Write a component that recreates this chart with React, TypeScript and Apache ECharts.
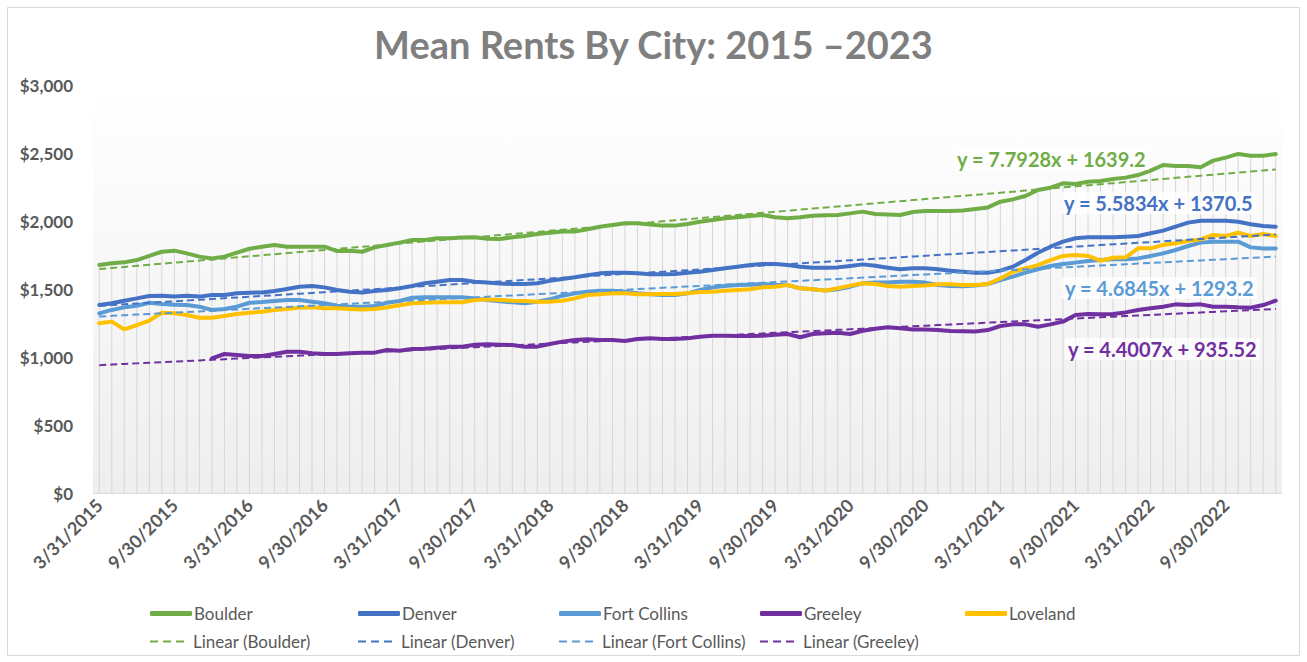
import React, { useEffect, useRef } from "react";
import * as echarts from "echarts";

const categories: string[] = [
  "3/31/2015","4/30/2015","5/31/2015","6/30/2015","7/31/2015","8/31/2015","9/30/2015","10/31/2015","11/30/2015","12/31/2015",
  "1/31/2016","2/29/2016","3/31/2016","4/30/2016","5/31/2016","6/30/2016","7/31/2016","8/31/2016","9/30/2016","10/31/2016","11/30/2016","12/31/2016",
  "1/31/2017","2/28/2017","3/31/2017","4/30/2017","5/31/2017","6/30/2017","7/31/2017","8/31/2017","9/30/2017","10/31/2017","11/30/2017","12/31/2017",
  "1/31/2018","2/28/2018","3/31/2018","4/30/2018","5/31/2018","6/30/2018","7/31/2018","8/31/2018","9/30/2018","10/31/2018","11/30/2018","12/31/2018",
  "1/31/2019","2/28/2019","3/31/2019","4/30/2019","5/31/2019","6/30/2019","7/31/2019","8/31/2019","9/30/2019","10/31/2019","11/30/2019","12/31/2019",
  "1/31/2020","2/29/2020","3/31/2020","4/30/2020","5/31/2020","6/30/2020","7/31/2020","8/31/2020","9/30/2020","10/31/2020","11/30/2020","12/31/2020",
  "1/31/2021","2/28/2021","3/31/2021","4/30/2021","5/31/2021","6/30/2021","7/31/2021","8/31/2021","9/30/2021","10/31/2021","11/30/2021","12/31/2021",
  "1/31/2022","2/28/2022","3/31/2022","4/30/2022","5/31/2022","6/30/2022","7/31/2022","8/31/2022","9/30/2022","10/31/2022","11/30/2022","12/31/2022",
  "1/31/2023"
];

const boulder: number[] = [
  1676,1689,1696,1713,1743,1774,1782,1762,1738,1725,1738,1767,1796,1811,1824,1811,1811,1811,1811,1779,1782,1774,1806,1824,1841,1860,1860,1873,1873,1878,1880,1870,1868,
  1880,1890,1904,1914,1922,1922,1939,1958,1971,1983,1983,1974,1966,1966,1978,1995,2007,2020,2027,2037,2044,2027,2020,2027,2039,2042,2044,2056,2069,2051,2047,2044,2066,2073,2073,2073,2078,2088,2100,
  2142,2159,2184,2228,2245,2277,2272,2289,2294,2309,2319,2338,2370,2412,2404,2404,2395,2444,2466,2493,2480,2480,2493
];

const denver: number[] = [
  1382,1395,1414,1431,1449,1451,1444,1451,1444,1456,1456,1468,1473,1475,1485,1500,1517,1522,1512,1493,1480,1475,1485,1493,1505,1522,1542,1554,1566,1566,1554,1547,1540,
  1537,1537,1542,1561,1574,1586,1601,1615,1620,1620,1615,1608,1608,1610,1620,1627,1640,1652,1664,1676,1684,1684,1676,1664,1657,1657,1659,1669,1681,1671,1657,1645,1652,1652,1645,1635,1627,1620,1620,
  1635,1664,1713,1767,1811,1848,1873,1880,1880,1880,1885,1890,1910,1929,1958,1988,2002,2002,2002,1995,1976,1963,1958
];

const fortCollins: number[] = [
  1321,1346,1365,1377,1399,1390,1385,1382,1370,1346,1353,1370,1399,1404,1412,1419,1419,1407,1395,1377,1370,1370,1375,1399,1412,1436,1439,1439,1439,1439,1431,1419,1410,
  1402,1395,1407,1424,1451,1468,1480,1488,1488,1480,1468,1461,1456,1456,1468,1493,1512,1522,1529,1532,1537,1529,1529,1505,1498,1488,1498,1517,1542,1547,1547,1554,1554,1547,1529,1522,1520,1525,1537,
  1566,1591,1620,1645,1669,1684,1694,1706,1713,1718,1718,1725,1743,1762,1787,1816,1841,1848,1848,1848,1806,1797,1797
];

const greeley: (number | null)[] = [
  null,null,null,null,null,null,null,null,null,
  990,1022,1015,1007,1007,1022,1039,1039,1027,1022,1022,1027,1032,1032,1051,1046,1059,1061,1068,1076,1076,1090,1093,1090,
  1088,1076,1076,1096,1113,1125,1130,1125,1125,1118,1132,1137,1132,1132,1137,1149,1157,1157,1154,1154,1157,1164,1169,1145,1169,1174,1179,1169,1193,1208,1218,1211,1203,1203,1198,1191,1190,1188,1198,
  1228,1240,1240,1223,1240,1260,1309,1316,1314,1316,1328,1346,1358,1370,1387,1382,1387,1370,1370,1365,1363,1382,1414
];

const loveland: number[] = [
  1248,1260,1203,1235,1267,1326,1321,1309,1289,1289,1301,1316,1326,1333,1346,1353,1363,1365,1358,1358,1353,1350,1353,1365,1380,1395,1399,1402,1402,1402,1419,1424,1419,
  1414,1412,1407,1407,1414,1431,1456,1461,1468,1468,1461,1461,1463,1463,1468,1478,1480,1488,1493,1498,1512,1517,1529,1505,1498,1488,1505,1525,1542,1537,1522,1517,1522,1525,1535,1535,1529,1529,1537,
  1578,1627,1652,1676,1713,1743,1750,1743,1708,1730,1733,1799,1799,1824,1836,1853,1865,1897,1890,1914,1890,1904,1890
];

// Trendline coefficients as printed on the chart: y = slope * x + intercept (x = 1..n)
const trendNames: string[] = ["Linear (Boulder)", "Linear (Denver)", "Linear (Fort Collins)", "Linear (Greeley)"];
const trendSlopes: number[] = [7.7928, 5.5834, 4.6845, 4.4007];
const trendIntercepts: number[] = [1639.2, 1370.5, 1293.2, 935.52];
const trendLabels: string[] = ["y = 7.7928x + 1639.2", "y = 5.5834x + 1370.5", "y = 4.6845x + 1293.2", "y = 4.4007x + 935.52"];

const seriesNames: string[] = ["Boulder", "Denver", "Fort Collins", "Greeley", "Loveland"];
const seriesColors: string[] = ["#70AD47", "#4472C4", "#5B9BD5", "#7030A0", "#FFC000"];
const yTicks: number[] = [0, 500, 1000, 1500, 2000, 2500, 3000];

const FONT = "Lato, 'Open Sans', sans-serif";

export default function App() {
  const ref = useRef<HTMLDivElement>(null);

  useEffect(() => {
    if (!ref.current) return;
    const chart = echarts.init(ref.current, null, { renderer: "svg" });
    const values = [boulder, denver, fortCollins, greeley, loveland];

    const dropData = categories.map((_, i) => {
      let m = 0;
      values.forEach((arr) => {
        const v = arr[i];
        if (v != null && v > m) m = v;
      });
      return [i, m];
    });

    const mainSeries = seriesNames.map((name, k) => ({
      name,
      type: "line",
      data: values[k],
      symbol: "none",
      connectNulls: false,
      z: 3,
      lineStyle: { color: seriesColors[k], width: 4, cap: "round", join: "round" },
      itemStyle: { color: seriesColors[k] },
    }));

    const trendSeries = trendNames.map((name, k) => ({
      name,
      type: "line",
      data: categories.map((_, i) => +(trendSlopes[k] * (i + 1) + trendIntercepts[k]).toFixed(2)),
      symbol: "none",
      z: 4,
      lineStyle: { color: seriesColors[k], width: 2, type: [7, 4] },
      itemStyle: { color: seriesColors[k] },
    }));

    const row1X = [150, 358, 559, 760, 965];
    const row2X = [150, 358, 559, 760];
    const legendText = { color: "#595959", fontSize: 17, fontFamily: FONT };
    const dashIcon = "path://M0,0H8V2H0Z M13,0H21V2H13Z M26,0H34V2H26Z";
    const legends: any[] = [];
    seriesNames.forEach((n, k) => {
      legends.push({
        data: [n], left: row1X[k], top: 605, icon: "roundRect", itemWidth: 42, itemHeight: 5,
        itemGap: 0, padding: 0, selectedMode: false, textStyle: { ...legendText, padding: [0, 0, 0, -3] },
      });
    });
    trendNames.forEach((n, k) => {
      legends.push({
        data: [n], left: row2X[k], top: 633, icon: dashIcon, itemWidth: 34, itemHeight: 2,
        itemGap: 0, padding: 0, selectedMode: false, textStyle: { ...legendText, padding: [0, 0, 0, 4] },
      });
    });

    const labelPos = [[954, 148], [1061, 192], [1062, 277], [1065, 338]];
    const labelGraphics = trendLabels.map((t, k) => ({
      type: "text",
      left: labelPos[k][0],
      top: labelPos[k][1],
      z: 100,
      style: {
        text: t,
        fill: seriesColors[k],
        font: `bold 20px ${FONT}`,
        backgroundColor: "rgba(255,255,255,0.75)",
        padding: [1, 3, 1, 3],
      },
    }));

    const option: any = {
      animation: false,
      backgroundColor: "#ffffff",
      title: {
        text: "Mean Rents By City: 2015 –2023",
        left: "center",
        top: 20,
        textStyle: { fontFamily: FONT, fontWeight: "bold", fontSize: 38, color: "#7F7F7F" },
      },
      grid: {
        left: 93, right: 25, top: 85, bottom: 169, show: true, borderWidth: 0,
        backgroundColor: new echarts.graphic.LinearGradient(0, 0, 0, 1, [
          { offset: 0, color: "#ffffff" },
          { offset: 1, color: "#eeeeee" },
        ]),
      },
      legend: legends,
      graphic: [
        {
          type: "rect", z: -1, silent: true,
          shape: { x: 7.5, y: 7.5, width: 1292, height: 648 },
          style: { fill: "none", stroke: "#d9d9d9", lineWidth: 1 },
        },
        ...labelGraphics,
      ],
      xAxis: {
        type: "category",
        data: categories,
        boundaryGap: true,
        axisLine: { show: true, lineStyle: { color: "#d9d9d9", width: 1 } },
        axisTick: { show: false },
        axisLabel: {
          interval: 5, rotate: 45, margin: 9,
          color: "#595959", fontWeight: "bold", fontSize: 18, fontFamily: FONT,
        },
        splitLine: { show: false },
      },
      yAxis: {
        type: "value",
        min: yTicks[0],
        max: yTicks[yTicks.length - 1],
        interval: 500,
        axisLine: { show: false },
        axisTick: { show: false },
        splitLine: { show: false },
        axisLabel: {
          margin: 20, color: "#595959", fontWeight: "bold", fontSize: 17, fontFamily: FONT,
          formatter: (v: number) => "$" + v.toLocaleString("en-US"),
        },
      },
      series: [
        {
          name: "drop",
          type: "custom",
          silent: true,
          z: 1,
          data: dropData,
          renderItem: (params: any, api: any) => {
            const top = api.coord([api.value(0), api.value(1)]);
            const bottom = api.coord([api.value(0), 0]);
            return {
              type: "line",
              shape: { x1: top[0], y1: top[1], x2: bottom[0], y2: bottom[1] },
              style: { stroke: "#d6d6d6", lineWidth: 1 },
            };
          },
        },
        ...mainSeries,
        ...trendSeries,
      ],
    };
    chart.setOption(option);
    return () => chart.dispose();
  }, []);

  return (
    <div
      ref={ref}
      style={{ position: "fixed", left: 0, top: 0, width: 1307, height: 662, background: "#fff" }}
    />
  );
}
